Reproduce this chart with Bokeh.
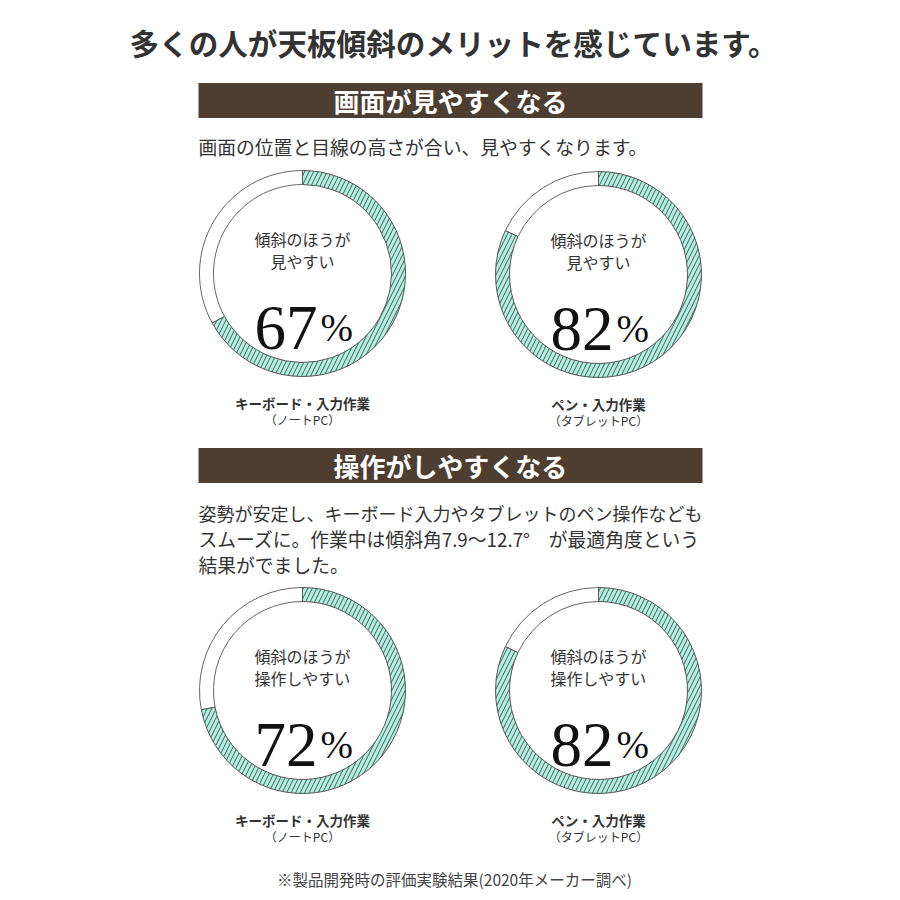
import math
from bokeh.plotting import figure
from bokeh.models import ColumnDataSource, Range1d
from bokeh.core.properties import value
from bokeh.embed import file_html
from bokeh.resources import INLINE

# ---------------- data ----------------
title_text = "多くの人が天板傾斜のメリットを感じています。"
section_titles = ["画面が見やすくなる", "操作がしやすくなる"]
section_notes = [
    ["画面の位置と目線の高さが合い、見やすくなります。"],
    ["姿勢が安定し、キーボード入力やタブレットのペン操作なども",
     "スムーズに。作業中は傾斜角7.9～12.7°　が最適角度という",
     "結果がでました。"],
]
percent_values = [67, 82, 72, 82]
inner_line1 = ["傾斜のほうが", "傾斜のほうが", "傾斜のほうが", "傾斜のほうが"]
inner_line2 = ["見やすい", "見やすい", "操作しやすい", "操作しやすい"]
task_labels = ["キーボード・入力作業", "ペン・入力作業", "キーボード・入力作業", "ペン・入力作業"]
device_labels = ["（ノートPC）", "（タブレットPC）", "（ノートPC）", "（タブレットPC）"]
footnote = "※製品開発時の評価実験結果(2020年メーカー調べ)"

# ---------------- layout / style ----------------
W = H = 900
JP = "Noto Sans CJK JP"
SERIF = "Liberation Serif"
TXT = "#333333"
BROWN = "#4d3e31"
MINT = "#aef2df"

def Y(y):
    return H - y

p = figure(width=W, height=H, output_backend="svg", toolbar_location=None,
           x_range=Range1d(0, W), y_range=Range1d(0, H),
           x_axis_location=None, y_axis_location=None, min_border=0)
p.grid.visible = False
p.outline_line_color = None
p.background_fill_color = "white"
p.border_fill_color = "white"

# title
p.text(x=[453], y=[Y(42)], text=[title_text], text_font=value(JP),
       text_font_size="29.6px", text_font_style="bold", text_color=TXT,
       text_align="center", text_baseline="middle")

# section bars
bar_y = [100, 465]
p.rect(x=[450, 450], y=[Y(v) for v in bar_y], width=504, height=35,
       fill_color=BROWN, line_color=None)
p.text(x=[450, 450], y=[Y(v) for v in bar_y], text=section_titles,
       text_font=value(JP), text_font_size="26px", text_font_style="bold",
       text_color="white", text_align="center", text_baseline="middle")

# notes
note_y = [[146], [512, 538, 564]]
note_size = [["18.8px"], ["18px", "18.8px", "18.8px"]]
for lines, ys, ss in zip(section_notes, note_y, note_size):
    for t_, yy, s_ in zip(lines, ys, ss):
        p.text(x=[198], y=[Y(yy)], text=[t_], text_font=value(JP), text_font_size=s_,
               text_color=TXT, text_align="left", text_baseline="middle")

# donuts
cxs = [302, 598, 302, 598]
cys = [273, 274, 690, 690]
R_OUT, R_IN = 103, 89
starts, ends, wstarts, wends = [], [], [], []
for v in percent_values:
    a = math.pi / 2 - 2 * math.pi * v / 100
    starts.append(math.pi / 2); ends.append(a)
    wstarts.append(a); wends.append(math.pi / 2 - 2 * math.pi)

src = ColumnDataSource(dict(
    x=cxs, y=[Y(c) for c in cys], s=starts, e=ends, ws=wstarts, we=wends,
    l1x=cxs, l1y=[Y(c - 35) for c in cys], l1=inner_line1,
    l2y=[Y(c - 13) for c in cys], l2=inner_line2,
    nx=[c + 15 for c in cxs], ny=[Y(c + 54) for c in cys],
    num=[str(v) for v in percent_values],
    px=[c + 18 for c in cxs], pct=["%"] * 4,
    t1y=[Y(c + 129) for c in cys], t1=task_labels,
    t2y=[Y(c + 146) for c in cys], t2=device_labels,
))

p.annular_wedge(x="x", y="y", inner_radius=R_IN, outer_radius=R_OUT,
                start_angle="ws", end_angle="we", direction="clock",
                fill_color="white", line_color="#666666", line_width=1, source=src)
p.annular_wedge(x="x", y="y", inner_radius=R_IN, outer_radius=R_OUT,
                start_angle="s", end_angle="e", direction="clock",
                fill_color=MINT, line_color="#555555", line_width=1,
                hatch_pattern="/", hatch_color="#555555", hatch_scale=9,
                hatch_weight=1, source=src)

p.text(x="l1x", y="l1y", text="l1", text_font=value(JP), text_font_size="16px",
       text_color=TXT, text_align="center", text_baseline="middle", source=src)
p.text(x="l1x", y="l2y", text="l2", text_font=value(JP), text_font_size="16px",
       text_color=TXT, text_align="center", text_baseline="middle", source=src)
p.text(x="nx", y="ny", text="num", text_font=value(SERIF), text_font_size="63px",
       text_color="#111111", text_align="right", text_baseline="alphabetic", source=src)
p.text(x="px", y="ny", text="pct", text_font=value(SERIF), text_font_size="39px",
       text_color="#111111", text_align="left", text_baseline="alphabetic", source=src)
p.text(x="l1x", y="t1y", text="t1", text_font=value(JP), text_font_size="13.5px",
       text_font_style="bold", text_color=TXT, text_align="center",
       text_baseline="middle", source=src)
p.text(x="l1x", y="t2y", text="t2", text_font=value(JP), text_font_size="12px",
       text_color=TXT, text_align="center", text_baseline="middle", source=src)

# footnote
p.text(x=[454], y=[Y(878)], text=[footnote], text_font=value(JP),
       text_font_size="15.5px", text_color="#444444", text_align="center",
       text_baseline="middle")

open("out.html", "w").write(file_html(p, INLINE))
